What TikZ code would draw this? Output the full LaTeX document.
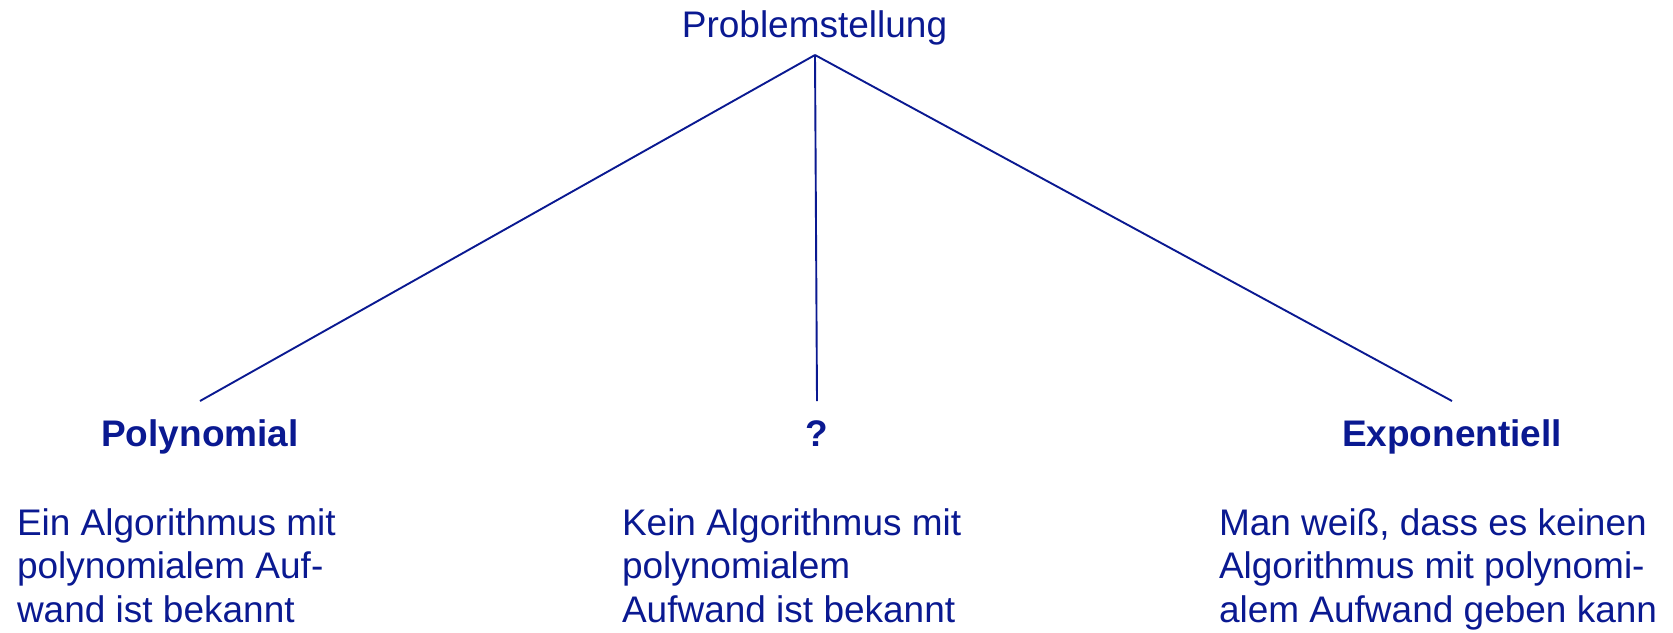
\documentclass[tikz,border=0pt]{standalone}
\usepackage{fontspec}
\setmainfont{Liberation Sans}
\definecolor{navy}{RGB}{10,25,145}
\begin{document}
\begin{tikzpicture}[x=1pt,y=-1pt,
  every node/.style={inner sep=0pt,outer sep=0pt,text=navy,font=\fontsize{37}{43.5}\selectfont},
  head/.style={anchor=base,font=\fontsize{37}{43.5}\selectfont\bfseries},
  body/.style={anchor=base west,align=left},
  link/.style={draw=navy,line width=1.9pt}]
\useasboundingbox (0,0) rectangle (1673,632);
\node[anchor=base] (root) at (814.5,37) {Problemstellung};
\coordinate (apex) at (815,55);
\coordinate (endL) at (200,401);
\coordinate (endM) at (817,401);
\coordinate (endR) at (1452,401);
\node[head] (poly) at (200,446) {Polynomial};
\node[head] (q) at (817,446) {?};
\node[head] (expo) at (1452,446) {Exponentiell};
\node[body] (bL) at (17,622) {Ein Algorithmus mit\\polynomialem Auf-\\wand ist bekannt};
\node[body] (bM) at (622,622) {Kein Algorithmus mit\\polynomialem\\Aufwand ist bekannt};
\node[body] (bR) at (1219,622) {Man weiß, dass es keinen\\Algorithmus mit polynomi-\\alem Aufwand geben kann};
\draw[link] (apex) -- (endL);
\draw[link] (apex) -- (endM);
\draw[link] (apex) -- (endR);
\end{tikzpicture}
\end{document}
